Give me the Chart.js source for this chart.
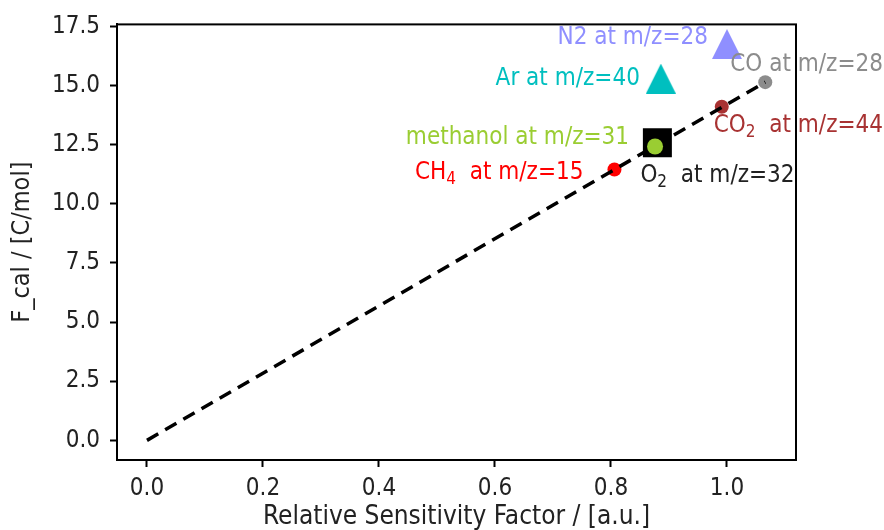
<!DOCTYPE html>
<html>
<head>
<meta charset="utf-8">
<script src="https://cdn.jsdelivr.net/npm/chart.js@4"></script>
<style>
  body { margin: 0; background: #fff; }
  canvas { display: block; }
</style>
</head>
<body>
<canvas id="ex_chart" width="884" height="530"></canvas>
<script>
// data
const gasNames = ['N2', 'Ar', 'CO', 'CO2', 'O2', 'methanol', 'CH4'];
const gasLabels = ['N2 at m/z=28', 'Ar at m/z=40', 'CO at m/z=28', 'CO_2  at m/z=44', 'O_2  at m/z=32', 'methanol at m/z=31', 'CH_4  at m/z=15'];
const gasX = [1.000, 0.886, 1.066, 0.991, 0.880, 0.876, 0.806];
const gasY = [16.75, 15.29, 15.14, 14.10, 12.58, 12.42, 11.45];
const fitX = [0, 1.066];
const fitY = [0, 15.14];
const xTicks = [0.0, 0.2, 0.4, 0.6, 0.8, 1.0];
const yTicks = [0.0, 2.5, 5.0, 7.5, 10.0, 12.5, 15.0, 17.5];

// styles
const gasColors = ['#8f8fff', '#00bfbf', '#8c8c8c', '#a83232', '#000000', '#9acd32', '#ff0000'];
const gasShapes = ['tri', 'tri', 'circle', 'circle', 'rect', 'circle', 'circle'];
const gasRadius = [7, 7, 7, 7, 20.5, 8, 7];
const gasOrder  = [2, 2, 2, 2, 5, 0, 2];
// label offset in px from the marker: [dx, dy, align]
const labelOffsets = [[-19, -6, 'right'], [-21, 0, 'right'], [-35, -17, 'left'], [-8, 19, 'left'],
                      [-17, 33, 'left'], [-26, -9, 'right'], [-31, 3, 'right']];

const FONT = "'DejaVu Sans Condensed', 'DejaVu Sans', sans-serif";
const FSIZE = 24;

function triImage(color) {
    const c = document.createElement('canvas');
    c.width = 30; c.height = 30;
    const g = c.getContext('2d');
    g.fillStyle = color;
    g.beginPath();
    g.moveTo(15, 0); g.lineTo(30, 30); g.lineTo(0, 30); g.closePath();
    g.fill();
    return c;
}

const datasets = gasNames.map((n, i) => ({
    label: n,
    data: [{ x: gasX[i], y: gasY[i] }],
    pointStyle: gasShapes[i] === 'tri' ? triImage(gasColors[i]) : gasShapes[i],
    pointRadius: gasRadius[i],
    backgroundColor: gasColors[i],
    borderColor: gasColors[i],
    borderWidth: 0,
    order: gasOrder[i]
}));
datasets.push({
    label: 'fit',
    data: fitX.map((x, i) => ({ x: x, y: fitY[i] })),
    showLine: true,
    borderColor: '#000',
    borderWidth: 3.5,
    borderDash: [13, 8],
    pointRadius: 0,
    order: 1
});

// draw text with "_4" style subscripts
function drawLabel(ctx, text, x, y, align, color) {
    const parts = [];
    text.split(/(_\d)/).forEach(p => {
        if (!p) return;
        if (p[0] === '_') parts.push({ t: p.slice(1), sub: true });
        else parts.push({ t: p, sub: false });
    });
    const big = '300 ' + FSIZE + 'px ' + FONT, small = '300 ' + Math.round(FSIZE * 0.7) + 'px ' + FONT;
    let w = 0;
    parts.forEach(p => { ctx.font = p.sub ? small : big; p.w = ctx.measureText(p.t).width; w += p.w; });
    let cx = align === 'right' ? x - w : x;
    ctx.fillStyle = color;
    ctx.textAlign = 'left';
    ctx.textBaseline = 'middle';
    parts.forEach(p => {
        ctx.font = p.sub ? small : big;
        ctx.fillText(p.t, cx, p.sub ? y + 7 : y);
        cx += p.w;
    });
}

const extras = {
    id: 'extras',
    afterDraw(chart) {
        const ctx = chart.ctx, a = chart.chartArea;
        ctx.save();
        ctx.strokeStyle = '#000';
        ctx.lineWidth = 2;
        ctx.strokeRect(a.left, a.top, a.right - a.left, a.bottom - a.top);
        const xs = chart.scales.x, ys = chart.scales.y;
        gasNames.forEach((n, i) => {
            const o = labelOffsets[i];
            drawLabel(ctx, gasLabels[i], xs.getPixelForValue(gasX[i]) + o[0], ys.getPixelForValue(gasY[i]) + o[1], o[2], gasColors[i] === '#000000' ? '#222' : gasColors[i]);
        });
        ctx.restore();
    }
};

Chart.defaults.font.family = FONT;
Chart.defaults.font.size = FSIZE;
Chart.defaults.font.weight = 300;
Chart.defaults.color = '#222';

const ctx = document.getElementById('ex_chart');
new Chart(ctx, {
    type: 'scatter',
    data: { datasets: datasets },
    options: {
        responsive: false,
        animation: false,
        layout: { padding: { top: 18, right: 88, left: 0, bottom: 0 } },
        plugins: { legend: { display: false }, tooltip: { enabled: false } },
        scales: {
            x: {
                min: -0.0517, max: 1.119,
                afterBuildTicks: s => { s.ticks = xTicks.map(v => ({ value: v })); },
                afterFit: s => { s.height = 70; },
                ticks: { padding: 7, maxRotation: 0, callback: v => v.toFixed(1) },
                grid: { drawOnChartArea: false, drawTicks: true, tickLength: 7, color: '#000', tickWidth: 2 },
                border: { color: '#000', width: 2 },
                title: { display: true, text: 'Relative Sensitivity Factor / [a.u.]', font: { size: 26 }, padding: { top: 0, bottom: -3 } }
            },
            y: {
                min: -0.83, max: 17.58,
                afterBuildTicks: s => { s.ticks = yTicks.map(v => ({ value: v })); },
                afterFit: s => { s.width = 117; },
                ticks: { padding: 10, callback: v => v.toFixed(1) },
                grid: { drawOnChartArea: false, drawTicks: true, tickLength: 7, color: '#000', tickWidth: 2 },
                border: { color: '#000', width: 2 },
                title: { display: true, text: 'F_cal / [C/mol]', font: { size: 25 }, padding: { top: 7, bottom: 0 } }
            }
        }
    },
    plugins: [extras]
});
</script>
</body>
</html>
